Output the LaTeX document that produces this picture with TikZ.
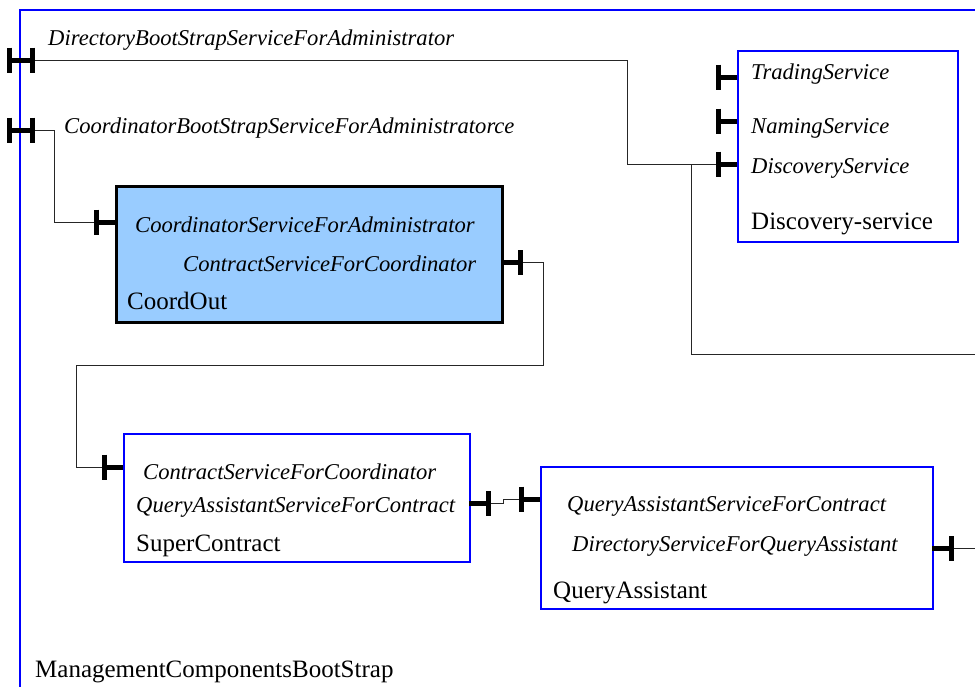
\documentclass[tikz,border=0pt]{standalone}
\usepackage{fontspec}
\setmainfont{Liberation Serif}
\usepackage{tikz}
\definecolor{coordfill}{HTML}{99CCFF}

\tikzset{
  comp/.style={draw=blue, line width=2pt, anchor=north west, inner sep=0},
  coordcomp/.style={draw=black, fill=coordfill, line width=2.5pt, anchor=north west, inner sep=0},
  wire/.style={draw=black!85, line width=1pt},
  portbar/.style={line width=5pt, black},
  iface/.style={font=\fontsize{22.6}{27}\selectfont\itshape, anchor=base west, inner sep=0},
  cname/.style={font=\fontsize{25}{30}\selectfont, anchor=base west, inner sep=0},
  plug/.pic={
    \draw[portbar] (0,0) -- (-20,0);
    \draw[portbar] (-19,-12.5) -- (-19,12.5);
    \coordinate (-tip) at (-21.5,0);
  },
  hport/.pic={
    \draw[portbar] (-14,0) -- (14,0);
    \draw[portbar] (-11.5,-12.5) -- (-11.5,12.5);
    \draw[portbar] (11.5,-12.5) -- (11.5,12.5);
    \coordinate (-out) at (14,0);
  }
}

\begin{document}
\begin{tikzpicture}[x=1pt, y=-1pt]
\fill[white] (0,0) rectangle (975,686);
\clip (0,0) rectangle (975,686);

% Outer component
\draw[blue, line width=2pt] (990,10) -- (20,10) -- (20,700);
\node[cname] (mcb) at (35,677) {ManagementComponentsBootStrap};
\pic (dbs) at (21,60) {hport};
\pic (cbs) at (21,130) {hport};
\node[iface] (dbslbl) at (48,45) {DirectoryBootStrapServiceForAdministrator};
\node[iface] (cbslbl) at (64,133) {CoordinatorBootStrapServiceForAdministratorce};

% Discovery-service
\node[comp, minimum width=220pt, minimum height=191pt] (disc) at (737,50) {};
\node[iface] (trd) at (751,79) {TradingService};
\node[iface] (nam) at (751,133) {NamingService};
\node[iface] (dsv) at (751,173) {DiscoveryService};
\node[cname] (discname) at (751,229) {Discovery-service};
\pic at (737,77) {plug};
\pic at (737,121) {plug};
\pic (dsp) at (737,164) {plug};

% CoordOut
\node[coordcomp, minimum width=386pt, minimum height=136pt] (coord) at (115,185) {};
\node[iface] (csa) at (135,232) {CoordinatorServiceForAdministrator};
\node[iface] (csc) at (183,271) {ContractServiceForCoordinator};
\node[cname] (coordname) at (127,309) {CoordOut};
\pic (cop) at (115,222) {plug};
\pic[rotate=180] (corp) at (501,262) {plug};

% SuperContract
\node[comp, minimum width=346pt, minimum height=128pt] (sc) at (123,433) {};
\node[iface] (sccsc) at (143,479) {ContractServiceForCoordinator};
\node[iface] (scqa) at (136,512) {QueryAssistantServiceForContract};
\node[cname] (scname) at (136,551) {SuperContract};
\pic (scp) at (123,467) {plug};
\pic[rotate=180] (scrp) at (469,503) {plug};

% QueryAssistant
\node[comp, minimum width=392pt, minimum height=142pt] (qa) at (540,466) {};
\node[iface] (qaqa) at (567,511) {QueryAssistantServiceForContract};
\node[iface] (qads) at (572,551) {DirectoryServiceForQueryAssistant};
\node[cname] (qaname) at (553,598) {QueryAssistant};
\pic (qap) at (540,499) {plug};
\pic[rotate=180] (qarp) at (932,548) {plug};

% Connectors
\coordinate (split) at (691,164);
\coordinate (offdisc) at (990,354);
\coordinate (offqa) at (990,548);
\draw[wire] (dbs-out) -- ++(592,0) |- (dsp-tip);
\draw[wire] (split) |- (offdisc);
\draw[wire] (cbs-out) -- ++(19,0) |- (cop-tip);
\draw[wire] (corp-tip) -- ++(21,0) -- ++(0,103) -- ++(-467,0) |- (scp-tip);
\draw[wire] (scrp-tip) -- ++(13,0) |- (qap-tip);
\draw[wire] (qarp-tip) -- (offqa);

\end{tikzpicture}
\end{document}
